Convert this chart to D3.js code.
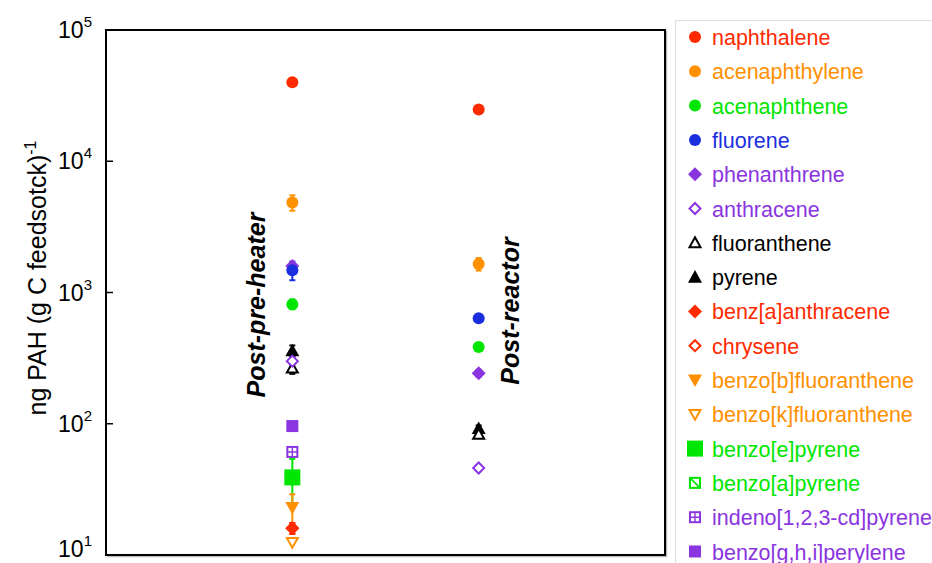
<!DOCTYPE html>
<html>
<head>
<meta charset="utf-8">
<script src="https://cdn.jsdelivr.net/npm/d3@7"></script>
<style>
  body { margin: 0; background: #fff; }
  svg { font-family: Arial, "Liberation Sans", sans-serif; }
</style>
</head>
<body>
<script>
const width = 932,
  height = 563;

// compounds, one entry per legend row
const compounds = ['naphthalene', 'acenaphthylene', 'acenaphthene', 'fluorene', 'phenanthrene',
  'anthracene', 'fluoranthene', 'pyrene', 'benz[a]anthracene', 'chrysene',
  'benzo[b]fluoranthene', 'benzo[k]fluoranthene', 'benzo[e]pyrene', 'benzo[a]pyrene',
  'indeno[1,2,3-cd]pyrene', 'benzo[g,h,i]perylene'];
const colors = ['#ff2a00', '#ff9000', '#00e600', '#1a2ee0', '#8a35e0', '#8a35e0', '#000', '#000',
  '#ff2a00', '#ff2a00', '#ff9000', '#ff9000', '#00e600', '#00e600', '#8a35e0', '#8a35e0'];
const shapes = ['circle', 'circle', 'circle', 'circle', 'diamond', 'diamondOpen', 'triUpOpen', 'triUp',
  'diamond', 'diamondOpen', 'triDown', 'triDownOpen', 'squareBig', 'squareSlash', 'squareGrid', 'square'];

const categories = ['Post-pre-heater', 'Post-reactor'];
// ng PAH per g C feedstock (null = not shown)
const preHeater = [40000, 4850, 815, 1480, 1590, 300, 265, 360, 16, 16, 23, 12.5, 39, 39, 61, 96];
const preHeaterErr = [0, 650, 70, 240, 60, 20, 25, 35, 1.5, 1.5, 6, 0, 15, 4, 3, 0];
const reactor = [24800, 1650, 385, 637, 243, 46, 83, 92, null, null, null, null, null, null, null, null];
const reactorErr = [0, 180, 0, 0, 15, 0, 4, 5, 0, 0, 0, 0, 0, 0, 0, 0];

const yTicks = [1, 2, 3, 4, 5];

const margin = { top: 30, left: 106, right: 267, bottom: 8 };
const plotW = 665 - margin.left,
  plotH = 555 - margin.top;

const svg = d3.select('body').append('svg')
  .attr('width', width)
  .attr('height', height);

const x = d3.scaleLinear().domain([0, 3]).range([margin.left, margin.left + plotW]);
const y = d3.scaleLog().domain([10, 1e5]).range([margin.top + plotH, margin.top]);

// frame with a faint shadow
svg.append('rect')
  .attr('x', margin.left + 1.5).attr('y', margin.top + 1.5)
  .attr('width', plotW).attr('height', plotH)
  .attr('fill', 'none').attr('stroke', '#bbb').attr('stroke-width', 1.5);
svg.append('rect')
  .attr('x', margin.left).attr('y', margin.top)
  .attr('width', plotW).attr('height', plotH)
  .attr('fill', '#fff').attr('stroke', '#000').attr('stroke-width', 2);

// y ticks (inward) and labels
const tickG = svg.append('g');
yTicks.forEach(p => {
  const v = Math.pow(10, p);
  if (p > 1 && p < 5) {
    tickG.append('line')
      .attr('x1', margin.left).attr('x2', margin.left + 7)
      .attr('y1', y(v)).attr('y2', y(v))
      .attr('stroke', '#000').attr('stroke-width', 1.5);
  }
  const t = tickG.append('text')
    .attr('x', 92).attr('y', Math.min(y(v) + 8, 557))
    .attr('text-anchor', 'end')
    .attr('font-size', 23);
  t.append('tspan').text('10');
  t.append('tspan').attr('dy', -11).attr('font-size', 15).text(p);
});

// y axis title
const yt = svg.append('text')
  .attr('transform', 'translate(46,278) rotate(-90)')
  .attr('text-anchor', 'middle')
  .attr('font-size', 25);
yt.append('tspan').text('ng PAH (g C feedsotck)');
yt.append('tspan').attr('dy', -10).attr('font-size', 16).text('-1');

// category labels, rotated
svg.append('text')
  .attr('transform', 'translate(265,305) rotate(-90)')
  .attr('text-anchor', 'middle')
  .attr('font-size', 25).attr('font-weight', 'bold').attr('font-style', 'italic')
  .text(categories[0]);
svg.append('text')
  .attr('transform', 'translate(519,311) rotate(-90)')
  .attr('text-anchor', 'middle')
  .attr('font-size', 25).attr('font-weight', 'bold').attr('font-style', 'italic')
  .text(categories[1]);

// marker drawing
function marker(g, shape, color, cx, cy) {
  const s = g.append('g').attr('transform', 'translate(' + cx + ',' + cy + ')');
  const open = { fill: '#fff', stroke: color, 'stroke-width': 2 };
  const filled = { fill: color, stroke: 'none' };
  const apply = (sel, o) => { Object.entries(o).forEach(([k, v]) => sel.attr(k, v)); return sel; };
  if (shape === 'circle') {
    apply(s.append('circle').attr('r', 6), filled);
  } else if (shape === 'diamond' || shape === 'diamondOpen') {
    const r = shape === 'diamond' ? 7 : 5.5;
    apply(s.append('path').attr('d', `M0,${-r}L${r},0L0,${r}L${-r},0Z`), shape === 'diamond' ? filled : open);
  } else if (shape === 'triUp' || shape === 'triUpOpen') {
    const r = shape === 'triUp' ? 7 : 5.5;
    apply(s.append('path').attr('d', `M0,${-r}L${r},${r * 0.8}L${-r},${r * 0.8}Z`), shape === 'triUp' ? filled : open);
  } else if (shape === 'triDown' || shape === 'triDownOpen') {
    const r = shape === 'triDown' ? 7 : 5.5;
    apply(s.append('path').attr('d', `M0,${r}L${r},${-r * 0.8}L${-r},${-r * 0.8}Z`), shape === 'triDown' ? filled : open);
  } else if (shape === 'square') {
    apply(s.append('rect').attr('x', -6).attr('y', -6).attr('width', 12).attr('height', 12), filled);
  } else if (shape === 'squareBig') {
    apply(s.append('rect').attr('x', -8).attr('y', -8).attr('width', 16).attr('height', 16), filled);
  } else if (shape === 'squareSlash') {
    apply(s.append('rect').attr('x', -5).attr('y', -5).attr('width', 10).attr('height', 10), open);
    s.append('line').attr('x1', -5).attr('y1', -5).attr('x2', 5).attr('y2', 5)
      .attr('stroke', color).attr('stroke-width', 1.6);
  } else if (shape === 'squareGrid') {
    apply(s.append('rect').attr('x', -5).attr('y', -5).attr('width', 10).attr('height', 10), open);
    s.append('path').attr('d', 'M0,-5V5M-5,0H5').attr('stroke', color).attr('stroke-width', 1.4);
  }
}

// draw points with error bars, back to front in reverse legend order so early rows sit on top
const pts = svg.append('g');
function column(vals, errs, xi) {
  const order = d3.range(compounds.length).reverse();
  order.forEach(i => {
    const v = vals[i];
    if (v == null) return;
    const e = errs[i];
    if (e > 0) {
      const lo = Math.max(v - e, 10.2), hi = v + e;
      pts.append('line')
        .attr('x1', x(xi)).attr('x2', x(xi))
        .attr('y1', y(lo)).attr('y2', y(hi))
        .attr('stroke', colors[i]).attr('stroke-width', 2);
      [lo, hi].forEach(b => pts.append('line')
        .attr('x1', x(xi) - 3).attr('x2', x(xi) + 3)
        .attr('y1', y(b)).attr('y2', y(b))
        .attr('stroke', colors[i]).attr('stroke-width', 2));
    }
  });
  order.forEach(i => {
    const v = vals[i];
    if (v == null) return;
    marker(pts, shapes[i], colors[i], x(xi), y(v));
  });
}
column(preHeater, preHeaterErr, 1);
column(reactor, reactorErr, 2);

// legend
const lg = svg.append('g');
lg.append('rect')
  .attr('x', 675.5).attr('y', 20.5)
  .attr('width', 300).attr('height', 600)
  .attr('fill', '#fff').attr('stroke', '#ddd').attr('stroke-width', 1);
compounds.forEach((name, i) => {
  const ly = 38 + i * 34.3;
  marker(lg, shapes[i], colors[i], 695, ly - 1);
  lg.append('text')
    .attr('x', 712).attr('y', ly + 7)
    .attr('font-size', 21.5)
    .attr('fill', colors[i])
    .text(name);
});
</script>
</body>
</html>
